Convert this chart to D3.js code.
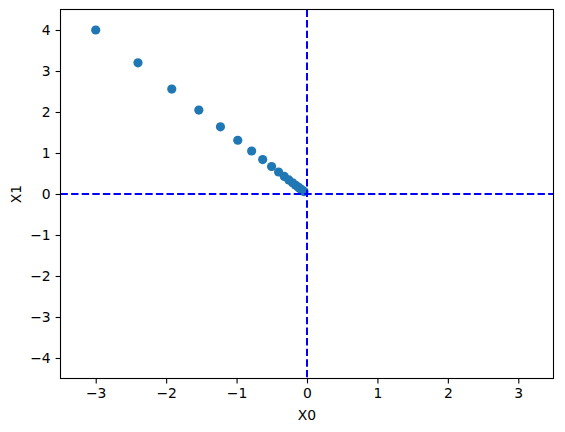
<!DOCTYPE html>
<html>
<head>
<meta charset="utf-8">
<script src="https://cdn.jsdelivr.net/npm/d3@7"></script>
<style>
  body { margin: 0; background: #fff; }
  text { font-family: "DejaVu Sans", sans-serif; }
</style>
</head>
<body>
<svg id="chart" width="565" height="432"></svg>
<script>
// gradient descent path
const xs = [-3, -2.4, -1.92, -1.536, -1.229, -0.983, -0.786, -0.629, -0.503, -0.403,
            -0.322, -0.258, -0.206, -0.165, -0.132, -0.106, -0.084, -0.068, -0.054, -0.043];
const ys = [4, 3.2, 2.56, 2.048, 1.638, 1.311, 1.049, 0.839, 0.671, 0.537,
            0.429, 0.344, 0.275, 0.220, 0.176, 0.141, 0.113, 0.090, 0.072, 0.058];
const xTicks = [-3, -2, -1, 0, 1, 2, 3];
const yTicks = [-4, -3, -2, -1, 0, 1, 2, 3, 4];
const xDomain = [-3.5, 3.5];
const yDomain = [-4.5, 4.5];

const plotLeft = 60.5, plotRight = 553.5, plotTop = 9.5, plotBottom = 378.5;

let svg = d3.select("#chart");

let x = d3.scaleLinear().domain(xDomain).range([plotLeft, plotRight]);
let y = d3.scaleLinear().domain(yDomain).range([plotBottom, plotTop]);
let fmt = d3.format("d");

// axes
let xAxis = svg.append("g")
  .attr("transform", "translate(0," + plotBottom + ")")
  .call(d3.axisBottom(x).tickValues(xTicks).tickFormat(fmt)
    .tickSize(4.9).tickPadding(4.9).tickSizeOuter(0));
let yAxis = svg.append("g")
  .attr("transform", "translate(" + plotLeft + ",0)")
  .call(d3.axisLeft(y).tickValues(yTicks).tickFormat(fmt)
    .tickSize(4.9).tickPadding(4.9).tickSizeOuter(0));

[xAxis, yAxis].forEach(function(g) {
  g.select(".domain").remove();
  g.selectAll("text").attr("font-size", "13.9px").attr("fill", "#000")
    .style("font-family", "DejaVu Sans");
  g.selectAll("line").attr("stroke", "#000").attr("stroke-width", 1.1);
});

// points
svg.append("g").selectAll("circle")
  .data(xs.map(function(v, i) { return {x: v, y: ys[i]}; }))
  .enter().append("circle")
  .attr("cx", function(d) { return x(d.x); })
  .attr("cy", function(d) { return y(d.y); })
  .attr("r", 4.6)
  .attr("fill", "#1f77b4");

// dashed reference lines at 0
svg.append("line")
  .attr("x1", plotLeft).attr("x2", plotRight)
  .attr("y1", y(0)).attr("y2", y(0))
  .attr("stroke", "#0000ff").attr("stroke-width", 2)
  .attr("stroke-dasharray", "7.4,3.2");
svg.append("line")
  .attr("x1", x(0)).attr("x2", x(0))
  .attr("y1", plotTop).attr("y2", plotBottom)
  .attr("stroke", "#0000ff").attr("stroke-width", 2)
  .attr("stroke-dasharray", "7.4,3.2");

// frame
svg.append("rect")
  .attr("x", plotLeft).attr("y", plotTop)
  .attr("width", plotRight - plotLeft).attr("height", plotBottom - plotTop)
  .attr("fill", "none").attr("stroke", "#000").attr("stroke-width", 1.1);

// labels
svg.append("text")
  .attr("x", (plotLeft + plotRight) / 2).attr("y", 420)
  .attr("text-anchor", "middle").attr("font-size", "13.9px")
  .text("X0");
svg.append("text")
  .attr("transform", "translate(21," + ((plotTop + plotBottom) / 2) + ") rotate(-90)")
  .attr("text-anchor", "middle").attr("font-size", "13.9px")
  .text("X1");
</script>
</body>
</html>
